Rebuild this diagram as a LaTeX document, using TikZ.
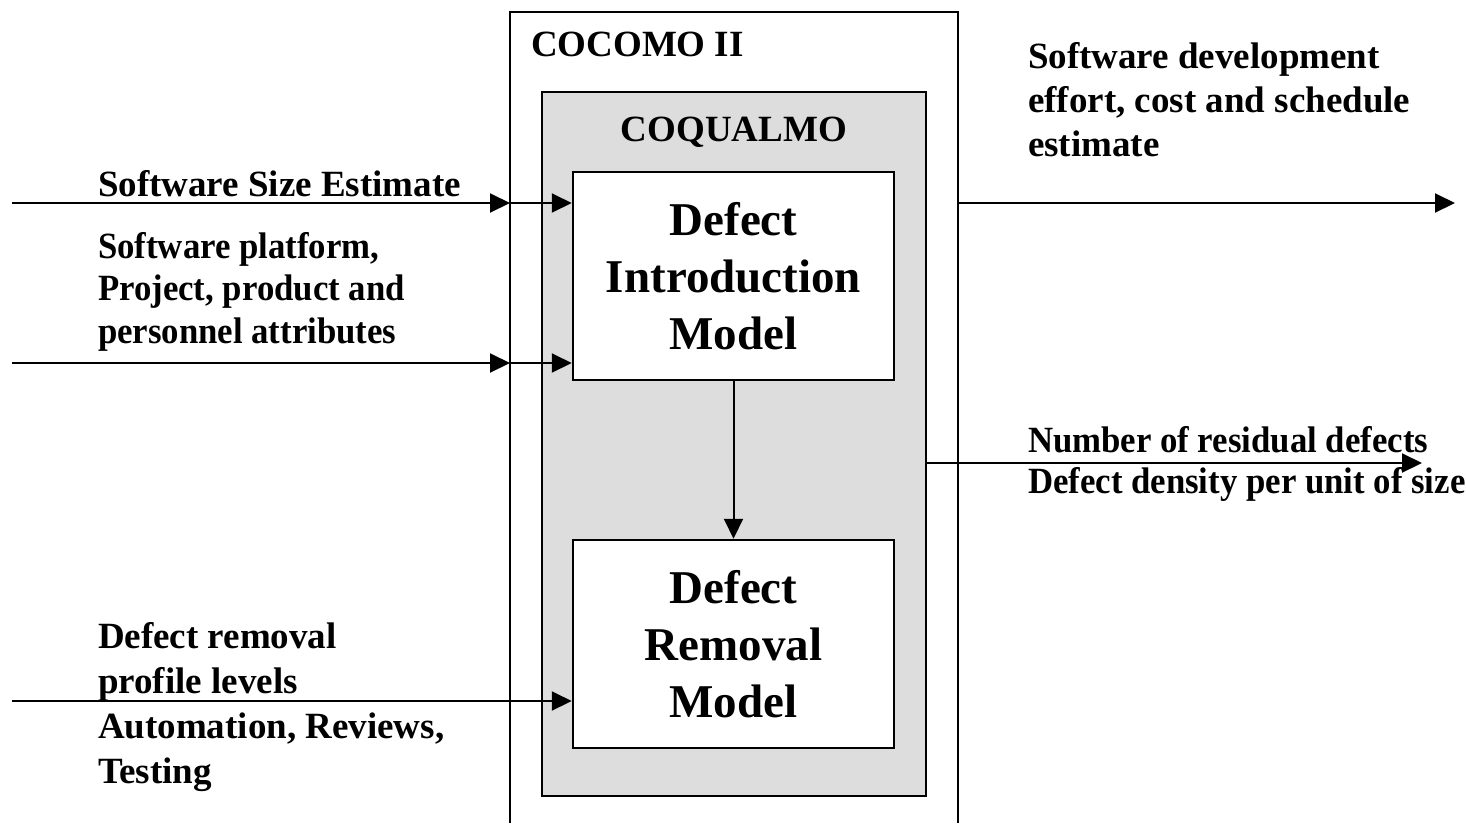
\documentclass[tikz,border=0pt]{standalone}
\usepackage{fontspec}
\setmainfont{Liberation Serif}
\newfontfamily\narrowserif[FakeStretch=0.94]{Liberation Serif}
\usetikzlibrary{arrows.meta}
\definecolor{graybg}{HTML}{DDDDDD}
\begin{document}
\begin{tikzpicture}[x=1pt,y=-1pt, line width=2pt,
  arr/.style={-{Triangle[length=20pt,width=19pt]}},
  lbl/.style={font=\bfseries\fontsize{37}{44}\selectfont, anchor=north west, inner sep=0pt, align=left},
  narrowlbl/.style={lbl, font=\narrowserif\bfseries\fontsize{37}{42.5}\selectfont},
  boxtext/.style={font=\bfseries\fontsize{47}{57}\selectfont, align=center},
  modelbox/.style={draw, fill=white, line width=2.5pt, minimum width=321pt, minimum height=208pt, inner sep=0pt}]
\useasboundingbox (0,0) rectangle (1466,823);
% outer COCOMO II frame (open at the bottom)
\coordinate (oSW) at (510,823);
\coordinate (oNW) at (510,12);
\coordinate (oNE) at (958,12);
\coordinate (oSE) at (958,823);
\draw[line width=2.5pt] (oSW) -- (oNW) -- (oNE) -- (oSE);
\node[lbl] (cocomo) at (530,31) {COCOMO II};
% COQUALMO gray box
\node[draw, fill=graybg, line width=2.5pt, minimum width=384pt, minimum height=704pt, inner sep=0pt] (coq) at (734,444) {};
\node[boxtext, font=\bfseries\fontsize{37}{44}\selectfont] (coqlbl) at (734,132) {COQUALMO};
% models
\node[modelbox, boxtext] (dim) at (733.5,276) {Defect\\Introduction\\Model};
\node[modelbox, boxtext] (drm) at (733.5,644) {Defect\\Removal\\Model};
\draw[arr] (dim.south) -- (drm.north);
% inputs
\coordinate (in1) at (12,203);
\coordinate (in2) at (12,363);
\coordinate (in3) at (12,701);
\draw[arr] (in1) -- (in1 -| oNW);
\draw[arr] (in1 -| oNW) -- (in1 -| dim.west);
\draw[arr] (in2) -- (in2 -| oNW);
\draw[arr] (in2 -| oNW) -- (in2 -| dim.west);
\draw[arr] (in3) -- (in3 -| drm.west);
\node[lbl] (l1) at (97,169) {Software Size Estimate};
\node[narrowlbl] (l2) at (97,231) {Software platform,\\Project, product and\\personnel attributes};
\node[lbl, font=\bfseries\fontsize{37}{45}\selectfont] (l3) at (97,621) {Defect removal\\profile levels\\Automation, Reviews,\\Testing};
% outputs
\coordinate (out1) at (1455,203);
\coordinate (out2) at (1422,463);
\draw[arr] (out1 -| oNE) -- (out1);
\draw[arr] (out2 -| coq.east) -- (out2);
\node[lbl] (r1) at (1027,41) {Software development\\effort, cost and schedule\\estimate};
\node[narrowlbl, font=\narrowserif\bfseries\fontsize{37}{41}\selectfont] (r2) at (1027,425) {Number of residual defects\\Defect density per unit of size};
\end{tikzpicture}
\end{document}
